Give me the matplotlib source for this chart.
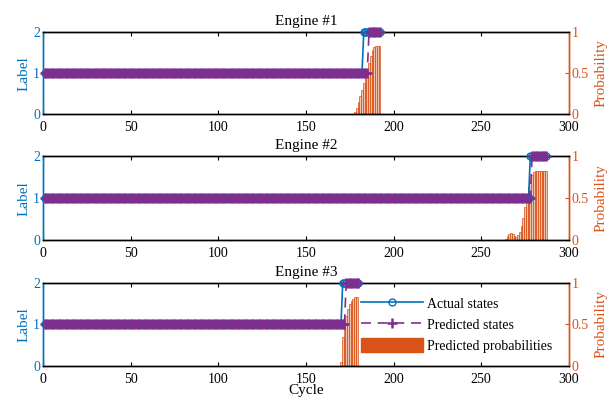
import numpy as np
import matplotlib
matplotlib.use("Agg")
import matplotlib.pyplot as plt
from matplotlib.patches import Patch

plt.rcParams['font.family'] = ['Liberation Serif', 'DejaVu Serif']
plt.rcParams['font.size'] = 10

BLUE = '#0072BD'
PURPLE = '#7E2F8E'
ORANGE = '#D95319'

engine_names = ["Engine #1", "Engine #2", "Engine #3"]
# last cycle of each engine
engine_len = [192, 287, 180]
# first cycle with label 2 (actual / predicted)
actual_change = [183, 278, 171]
predicted_change = [186, 279, 173]

# predicted probabilities near end of life
prob_start = [178, 264, 170]
prob_1 = [0.02, 0.08, 0.15, 0.22, 0.30, 0.38, 0.46, 0.55, 0.63, 0.71, 0.78, 0.82, 0.83, 0.83, 0.83]
prob_2 = [0.02, 0.05, 0.07, 0.08, 0.07, 0.05, 0.04, 0.06, 0.10, 0.17, 0.27, 0.40, 0.52, 0.63, 0.72,
          0.78, 0.81, 0.82, 0.82, 0.82, 0.82, 0.82, 0.82, 0.82]
prob_3 = [0.05, 0.35, 0.50, 0.60, 0.68, 0.74, 0.78, 0.81, 0.83, 0.83]
probs = [prob_1, prob_2, prob_3]

fig = plt.figure(figsize=(6.13, 4.03), dpi=100)
bottoms = [0.717, 0.404, 0.092]
heights = [0.203, 0.208, 0.206]

for i in range(3):
    ax = fig.add_axes([0.070, bottoms[i], 0.858, heights[i]])
    ax2 = ax.twinx()
    ax.set_zorder(ax2.get_zorder() + 1)
    ax.patch.set_visible(False)

    cycles = np.arange(1, engine_len[i] + 1)
    actual = np.where(cycles >= actual_change[i], 2, 1)
    predicted = np.where(cycles >= predicted_change[i], 2, 1)

    ax.plot(cycles, actual, color=BLUE, lw=1.2, marker='o', ms=5, mfc='none',
            mew=1.0, label='Actual states', clip_on=False, zorder=3)
    ax.plot(cycles, predicted, color=PURPLE, lw=1.2, ls=(0, (6, 4)), marker='+', ms=7,
            mew=1.8, label='Predicted states', clip_on=False, zorder=4)

    px = np.arange(prob_start[i], prob_start[i] + len(probs[i]))
    ax2.bar(px, probs[i], width=1.0, facecolor=(0.85, 0.33, 0.10, 0.35),
            edgecolor=ORANGE, linewidth=0.5)

    ax.set_xlim(0, 300)
    ax.set_ylim(0, 2)
    ax.set_yticks([0, 1, 2])
    ax.set_xticks(range(0, 301, 50))
    ax2.set_ylim(0, 1)
    ax2.set_yticks([0, 0.5, 1])
    ax2.set_yticklabels(['0', '0.5', '1'])

    ax.tick_params(axis='x', direction='in', top=True, length=3, labelsize=10, pad=5)
    ax.tick_params(axis='y', direction='in', colors=BLUE, length=3, labelsize=10, pad=2)
    ax2.tick_params(axis='y', direction='in', colors=ORANGE, length=3, labelsize=10, pad=2)

    ax.spines['left'].set_color(BLUE)
    ax2.spines['left'].set_color(BLUE)
    ax2.spines['right'].set_color(ORANGE)
    ax.spines['right'].set_color(ORANGE)
    for a in (ax, ax2):
        for s in a.spines.values():
            s.set_linewidth(1.0)

    ax.set_ylabel('Label', color=BLUE, fontsize=11, labelpad=2)
    ax2.set_ylabel('Probability', color=ORANGE, fontsize=11, labelpad=4)
    ax.set_title(engine_names[i], fontsize=11, pad=5)

    if i == 2:
        ax.set_xlabel('Cycle', fontsize=11, labelpad=-1)
        handles, labels = ax.get_legend_handles_labels()
        handles.append(Patch(facecolor=ORANGE, edgecolor=ORANGE))
        labels.append('Predicted probabilities')
        ax.legend(handles, labels, loc='center right', bbox_to_anchor=(0.985, 0.5),
                  frameon=False, fontsize=10, handlelength=4.5, handleheight=1.2,
                  labelspacing=0.45, borderaxespad=0.2, handletextpad=0.3)

fig.savefig('out.png', dpi=100)
